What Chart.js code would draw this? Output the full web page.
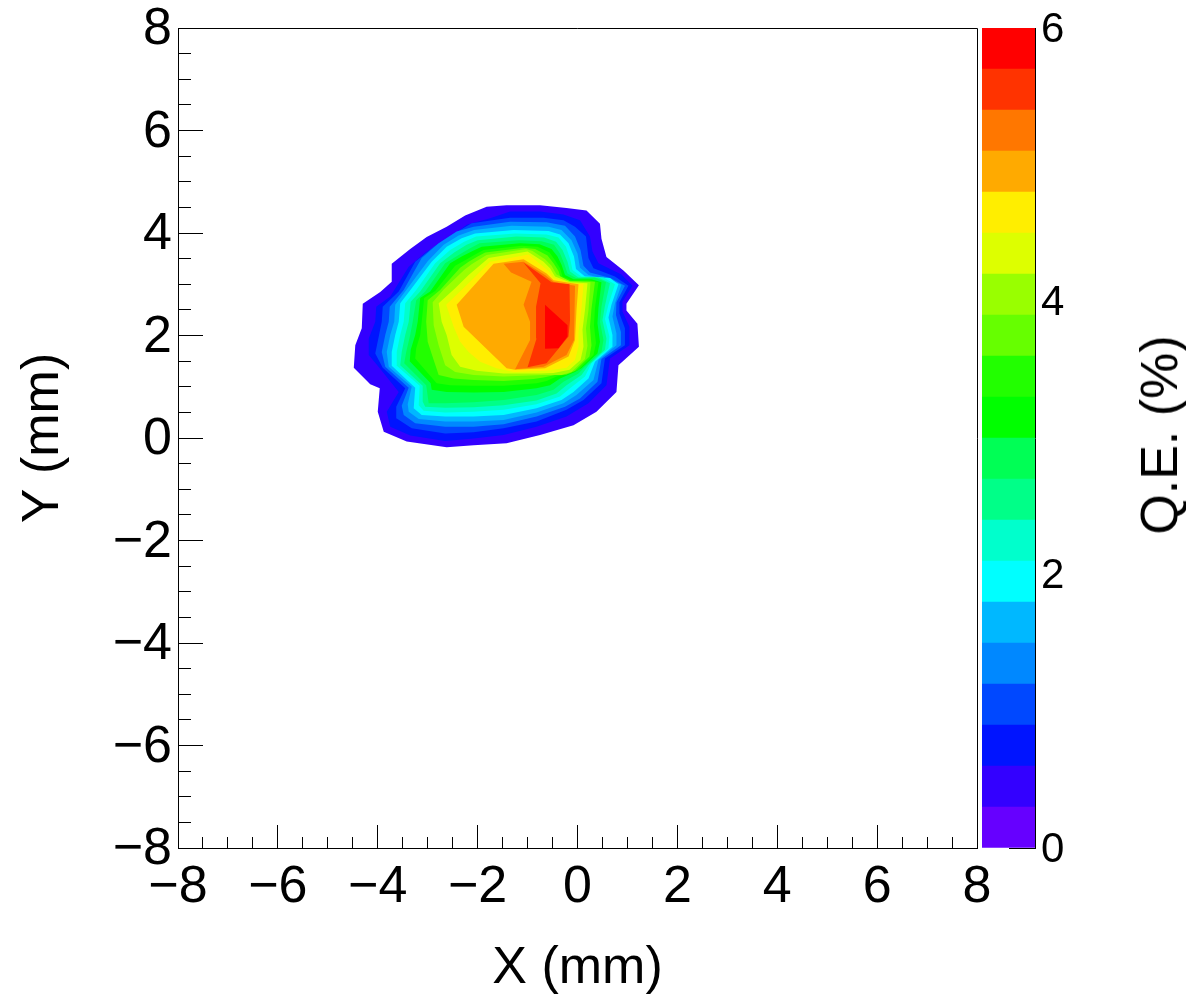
<!DOCTYPE html>
<html>
<head>
<meta charset="utf-8">
<title>Q.E. map</title>
<script src="https://cdn.jsdelivr.net/npm/chart.js"></script>
<style>
  body { margin: 0; background: #fff; }
  canvas { position: absolute; top: 0; }
  #qeTitle {
    position: absolute; left: 1159px; top: 435px;
    font: 52px "Liberation Sans", sans-serif; color: #000; white-space: nowrap;
    transform: translate(-50%, -50%) rotate(-90deg);
  }
</style>
</head>
<body>
<canvas id="mapa" width="1186" height="1000" style="left:0"></canvas>
<canvas id="barra" width="226" height="1000" style="left:960px"></canvas>
<div id="qeTitle">Q.E. (%)</div>
<script>
const xTicks = [-8, 8];
const yTicks = [-8, 8];
const colorTicks = [0, 6];
const levels = [0, 0.3, 0.6, 0.9, 1.2, 1.5, 1.8, 2.1, 2.4, 2.7, 3, 3.3, 3.6, 3.9, 4.2, 4.5, 4.8, 5.1, 5.4, 5.7, 6];
const bandColors = ["#6600ff", "#3300ff", "#0014ff", "#0048ff", "#0088ff", "#00b8ff", "#00ffff", "#00ffcc", "#00ff88", "#00ff55",
  "#00ff00", "#22ff00", "#66ff00", "#99ff00", "#ddff00", "#ffee00", "#ffaa00", "#ff7700", "#ff3300", "#ff0000"];

// Contornos, [x, y] em mm, do nivel 0.3 ate o 5.7
const c03 = [[-1.82,4.51],[-1.42,4.54],[-0.75,4.54],[-0.22,4.49],[0.18,4.44],[0.45,4.18],[0.48,3.89],[0.58,3.53],[0.92,3.27],[1.23,2.98],[0.98,2.62],[0.98,2.49],[1.20,2.23],[1.23,1.78],[0.82,1.42],[0.78,0.90],[0.38,0.51],[-0.08,0.25],[-0.75,0.06],[-1.42,-0.10],[-2.08,-0.14],[-2.62,-0.18],[-3.42,-0.07],[-3.88,0.12],[-4.0,0.51],[-3.96,0.97],[-4.15,1.05],[-4.48,1.37],[-4.45,1.81],[-4.32,2.14],[-4.30,2.62],[-3.95,2.85],[-3.72,3.05],[-3.72,3.40],[-3.35,3.69],[-3.02,3.92],[-2.62,4.12],[-2.25,4.34]];
const c06 = [[-1.75,4.29],[-1.35,4.42],[-0.75,4.42],[-0.28,4.36],[0.05,4.25],[0.25,3.93],[0.30,3.64],[0.42,3.41],[0.88,3.19],[1.10,2.97],[0.90,2.66],[0.90,2.47],[1.04,2.17],[1.04,1.81],[0.65,1.55],[0.58,1.03],[0.22,0.68],[-0.22,0.42],[-0.82,0.22],[-1.48,0.06],[-2.08,-0.01],[-2.65,-0.06],[-3.35,0.05],[-3.75,0.22],[-3.82,0.51],[-3.58,0.90],[-3.96,1.36],[-4.18,1.62],[-4.18,1.94],[-4.05,2.27],[-4.03,2.56],[-3.75,2.76],[-3.38,3.34],[-3.02,3.64],[-2.62,3.86],[-2.22,4.16]];
const c09 = [[-2.12,4.19],[-1.35,4.30],[-0.68,4.30],[-0.28,4.25],[-0.05,4.12],[0.17,3.93],[0.22,3.51],[0.32,3.31],[0.75,3.15],[1.02,2.97],[0.84,2.65],[0.84,2.43],[0.95,2.14],[0.95,1.81],[0.55,1.55],[0.48,1.07],[0.12,0.74],[-0.22,0.55],[-0.82,0.32],[-1.48,0.19],[-2.08,0.11],[-2.65,0.09],[-3.32,0.19],[-3.62,0.38],[-3.63,0.61],[-3.45,0.97],[-3.90,1.37],[-4.05,1.65],[-3.98,1.98],[-3.92,2.27],[-3.90,2.56],[-3.58,2.86],[-3.25,3.44],[-2.88,3.73],[-2.52,3.96]];
const c12 = [[-2.08,4.12],[-1.35,4.22],[-0.62,4.21],[-0.25,4.14],[-0.05,3.93],[0.06,3.67],[0.12,3.36],[0.25,3.23],[0.66,3.12],[0.95,2.97],[0.78,2.65],[0.77,2.40],[0.87,2.07],[0.87,1.81],[0.48,1.54],[0.40,1.10],[0.05,0.77],[-0.25,0.61],[-0.82,0.42],[-1.48,0.27],[-2.08,0.22],[-2.65,0.22],[-3.25,0.29],[-3.48,0.45],[-3.52,0.63],[-3.38,0.98],[-3.85,1.39],[-3.92,1.68],[-3.85,2.01],[-3.78,2.27],[-3.76,2.56],[-3.48,2.89],[-3.12,3.51],[-2.78,3.80],[-2.42,4.03]];
const c15 = [[-2.07,4.06],[-1.32,4.14],[-0.58,4.12],[-0.32,4.06],[-0.12,3.86],[0.00,3.60],[0.05,3.32],[0.22,3.18],[0.68,3.08],[0.88,2.99],[0.75,2.63],[0.70,2.37],[0.78,2.04],[0.78,1.81],[0.42,1.52],[0.32,1.13],[-0.02,0.84],[-0.28,0.68],[-0.82,0.50],[-1.48,0.35],[-2.08,0.32],[-2.65,0.32],[-3.18,0.37],[-3.38,0.51],[-3.40,0.66],[-3.32,1.00],[-3.78,1.39],[-3.82,1.68],[-3.75,2.01],[-3.67,2.27],[-3.65,2.60],[-3.38,2.95],[-3.00,3.45],[-2.68,3.77],[-2.38,3.95]];
const c18 = [[-2.05,3.99],[-1.28,4.06],[-0.58,4.04],[-0.35,3.97],[-0.18,3.80],[-0.07,3.54],[-0.03,3.30],[0.15,3.15],[0.65,3.12],[0.82,3.00],[0.68,2.60],[0.62,2.35],[0.70,2.01],[0.70,1.78],[0.35,1.49],[0.22,1.16],[-0.08,0.90],[-0.32,0.74],[-0.82,0.58],[-1.48,0.45],[-2.08,0.42],[-2.65,0.42],[-3.12,0.45],[-3.28,0.58],[-3.25,0.98],[-3.72,1.41],[-3.72,1.68],[-3.65,2.01],[-3.58,2.27],[-3.55,2.63],[-3.32,2.92],[-2.92,3.44],[-2.62,3.73],[-2.32,3.90]];
const c21 = [[-2.03,3.93],[-1.25,3.99],[-0.62,3.97],[-0.38,3.91],[-0.23,3.73],[-0.14,3.47],[-0.10,3.28],[0.08,3.15],[0.52,3.13],[0.75,3.00],[0.62,2.60],[0.55,2.32],[0.64,1.98],[0.62,1.75],[0.28,1.46],[0.15,1.20],[-0.15,0.97],[-0.35,0.81],[-0.82,0.66],[-1.48,0.55],[-2.08,0.51],[-2.65,0.50],[-3.08,0.53],[-3.18,0.64],[-3.16,1.02],[-3.63,1.42],[-3.62,1.68],[-3.55,2.01],[-3.48,2.27],[-3.45,2.63],[-3.23,2.89],[-2.85,3.41],[-2.55,3.67],[-2.27,3.83]];
const c24 = [[-2.00,3.86],[-1.22,3.93],[-0.67,3.91],[-0.43,3.83],[-0.30,3.67],[-0.20,3.44],[-0.15,3.25],[0.02,3.13],[0.42,3.13],[0.65,3.02],[0.55,2.58],[0.50,2.30],[0.58,1.94],[0.55,1.72],[0.22,1.42],[0.08,1.23],[-0.22,1.03],[-0.42,0.87],[-0.82,0.73],[-1.48,0.64],[-2.08,0.60],[-2.65,0.59],[-3.05,0.61],[-3.10,0.71],[-3.10,1.02],[-3.55,1.42],[-3.52,1.68],[-3.45,2.01],[-3.38,2.27],[-3.34,2.66],[-3.15,2.86],[-2.75,3.41],[-2.47,3.62],[-2.22,3.77]];
const c27 = [[-1.96,3.80],[-1.18,3.86],[-0.72,3.84],[-0.47,3.77],[-0.35,3.60],[-0.27,3.41],[-0.20,3.21],[-0.03,3.12],[0.35,3.13],[0.57,3.04],[0.48,2.56],[0.45,2.27],[0.52,1.91],[0.48,1.68],[0.15,1.39],[0.02,1.26],[-0.28,1.10],[-0.48,0.94],[-0.82,0.84],[-1.48,0.74],[-2.08,0.70],[-2.65,0.68],[-2.98,0.68],[-3.03,1.03],[-3.47,1.46],[-3.43,1.68],[-3.35,2.01],[-3.30,2.27],[-3.23,2.69],[-3.05,2.86],[-2.65,3.41],[-2.38,3.57],[-2.16,3.70]];
const c30 = [[-1.92,3.73],[-1.15,3.80],[-0.76,3.78],[-0.52,3.69],[-0.40,3.54],[-0.32,3.38],[-0.25,3.18],[-0.08,3.10],[0.28,3.10],[0.48,3.04],[0.42,2.54],[0.40,2.24],[0.45,1.88],[0.40,1.65],[0.08,1.36],[-0.05,1.29],[-0.35,1.16],[-0.55,1.03],[-0.82,0.97],[-1.48,0.90],[-2.08,0.89],[-2.62,0.90],[-2.92,0.94],[-2.94,1.07],[-3.36,1.50],[-3.34,1.72],[-3.25,2.01],[-3.20,2.27],[-3.15,2.73],[-2.95,2.86],[-2.55,3.41],[-2.32,3.54],[-2.12,3.64]];
const c33 = [[-1.88,3.67],[-1.12,3.75],[-0.80,3.73],[-0.56,3.62],[-0.45,3.47],[-0.35,3.31],[-0.30,3.15],[-0.12,3.08],[0.22,3.08],[0.42,3.04],[0.35,2.53],[0.33,2.20],[0.37,1.85],[0.32,1.62],[0.02,1.33],[-0.15,1.26],[-0.42,1.20],[-0.62,1.11],[-0.82,1.07],[-1.48,1.02],[-2.08,1.02],[-2.55,1.03],[-2.82,1.07],[-3.25,1.55],[-3.23,1.75],[-3.15,2.01],[-3.12,2.27],[-3.07,2.73],[-2.85,2.87],[-2.45,3.36],[-2.25,3.47],[-2.05,3.58]];
const c36 = [[-1.85,3.62],[-1.07,3.71],[-0.85,3.69],[-0.60,3.56],[-0.48,3.41],[-0.38,3.26],[-0.34,3.13],[-0.15,3.06],[0.17,3.06],[0.35,3.05],[0.28,2.52],[0.25,2.17],[0.28,1.81],[0.24,1.59],[-0.05,1.31],[-0.22,1.24],[-0.45,1.23],[-0.68,1.18],[-0.88,1.15],[-1.48,1.11],[-2.08,1.13],[-2.48,1.16],[-2.78,1.23],[-2.88,1.52],[-3.00,1.88],[-3.03,2.27],[-3.00,2.69],[-2.75,2.89],[-2.35,3.32],[-2.18,3.44],[-2.00,3.54]];
const c39 = [[-1.82,3.57],[-1.03,3.69],[-0.90,3.65],[-0.65,3.49],[-0.52,3.36],[-0.42,3.19],[-0.15,3.06],[0.26,3.04],[0.22,2.50],[0.17,2.14],[0.20,1.80],[0.15,1.54],[-0.12,1.29],[-0.32,1.23],[-0.68,1.23],[-1.48,1.20],[-2.08,1.23],[-2.45,1.29],[-2.65,1.42],[-2.78,1.81],[-2.88,2.20],[-2.90,2.65],[-2.68,2.90],[-2.27,3.28],[-2.12,3.39],[-1.96,3.49]];
const c42 = [[-1.78,3.51],[-1.00,3.64],[-0.68,3.44],[-0.55,3.31],[-0.45,3.15],[-0.15,3.04],[0.20,3.02],[0.15,2.50],[0.10,2.11],[0.12,1.78],[0.06,1.52],[-0.16,1.33],[-0.48,1.27],[-0.75,1.26],[-1.48,1.26],[-2.02,1.31],[-2.35,1.39],[-2.52,1.62],[-2.62,2.01],[-2.72,2.27],[-2.78,2.63],[-2.45,2.92],[-2.18,3.18]];
const c45 = [[-1.75,3.44],[-0.98,3.58],[-0.58,3.26],[-0.48,3.12],[-0.15,3.02],[0.12,3.00],[0.08,2.53],[0.02,2.07],[0.02,1.78],[-0.05,1.52],[-0.22,1.37],[-0.62,1.31],[-1.28,1.29],[-1.62,1.36],[-1.95,1.49],[-2.18,1.68],[-2.35,1.88],[-2.48,2.17],[-2.63,2.60],[-2.12,3.08]];
const c48 = [[-2.42,2.60],[-1.68,3.40],[-1.48,3.43],[-1.08,3.49],[-0.62,3.21],[-0.48,3.08],[0.02,3.00],[-0.02,2.50],[-0.05,1.91],[-0.18,1.59],[-0.65,1.36],[-1.25,1.33],[-1.42,1.36],[-2.28,2.17]];
const c51 = [[-1.48,3.40],[-1.08,3.44],[-0.65,3.18],[-0.48,3.05],[-0.05,2.97],[-0.07,1.91],[-0.22,1.62],[-0.68,1.39],[-1.25,1.34],[-0.95,1.91],[-0.95,2.27],[-1.08,2.60],[-0.92,3.05],[-1.33,3.23]];
const c54 = [[-1.08,3.42],[-0.68,3.15],[-0.52,3.04],[-0.16,3.00],[-0.15,2.30],[-0.18,1.98],[-0.62,1.46],[-1.00,1.38],[-0.82,1.94],[-0.83,2.56],[-0.74,3.02]];
const c57 = [[-0.65,2.60],[-0.20,2.20],[-0.20,1.98],[-0.38,1.75],[-0.65,1.74]];
const contours = [c03, c06, c09, c12, c15, c18, c21, c24, c27, c30, c33, c36, c39, c42, c45, c48, c51, c54, c57];

const fonte = "'Liberation Sans', sans-serif";
const menos = (v) => (v < 0 ? "\u2212" + Math.abs(v) : "" + v);

// Moldura do grafico (so topo e direita, o resto vem dos eixos)
const moldura = {
  id: "moldura",
  afterDatasetsDraw(chart) {
    const { left, right, top, bottom } = chart.chartArea;
    const ctx = chart.ctx;
    ctx.save();
    ctx.strokeStyle = "#000";
    ctx.lineWidth = 1;
    ctx.beginPath();
    ctx.moveTo(left, top + 0.5);
    ctx.lineTo(right + 0.5, top + 0.5);
    ctx.lineTo(right + 0.5, bottom);
    ctx.stroke();
    ctx.restore();
  }
};

// Fixa a largura/altura do eixo e tira a folga que o Chart.js reserva para os rotulos
function fixarEixo(scale, tamanho) {
  if (scale.isHorizontal()) scale.height = tamanho; else scale.width = tamanho;
  scale.paddingTop = scale.paddingBottom = scale.paddingLeft = scale.paddingRight = 0;
}

// Eixo so com as marcas menores, a cada 0.5 mm
function eixoMenor(position, range, tamanho) {
  return {
    type: "linear", position, min: range[0], max: range[1], weight: -1,
    border: { display: false },
    grid: { drawOnChartArea: false, tickLength: -tamanho, tickColor: "#000", tickWidth: 1 },
    ticks: { display: false, stepSize: 0.5 },
    afterFit(scale) { fixarEixo(scale, 0); }
  };
}

new Chart(document.getElementById("mapa"), {
  type: "scatter",
  data: {
    // o Chart.js pinta o ultimo dataset primeiro, entao o contorno mais interno vem antes
    datasets: contours.map((c, i) => ({
      label: "Q.E. > " + levels[i + 1],
      data: c.map((p) => ({ x: p[0], y: p[1] })),
      showLine: true,
      fill: "shape",
      backgroundColor: bandColors[i + 1],
      borderWidth: 0,
      pointRadius: 0
    })).reverse()
  },
  options: {
    responsive: false,
    animation: false,
    layout: { padding: { top: 28, right: 209 } },
    plugins: { legend: { display: false }, tooltip: { enabled: false } },
    scales: {
      x: {
        type: "linear", position: "bottom", min: xTicks[0], max: xTicks[1],
        border: { color: "#000", width: 1 },
        grid: { drawOnChartArea: false, tickLength: -23, tickColor: "#000", tickWidth: 1 },
        ticks: { stepSize: 2, padding: 23 + 8, maxRotation: 0, autoSkip: false, color: "#000", font: { family: fonte, size: 52 }, callback: menos },
        title: { display: true, text: "X (mm)", color: "#000", font: { family: fonte, size: 52 }, padding: 0 },
        afterFit(scale) { fixarEixo(scale, 152); }
      },
      y: {
        type: "linear", position: "left", min: yTicks[0], max: yTicks[1],
        border: { color: "#000", width: 1 },
        grid: { drawOnChartArea: false, tickLength: -25, tickColor: "#000", tickWidth: 1 },
        ticks: { stepSize: 2, padding: 25 + 6, labelOffset: 2, autoSkip: false, color: "#000", font: { family: fonte, size: 52 }, callback: menos },
        title: { display: true, text: "Y (mm)", color: "#000", font: { family: fonte, size: 52 }, padding: { top: 12, bottom: 0 } },
        afterFit(scale) { fixarEixo(scale, 178); }
      },
      xMenor: eixoMenor("bottom", xTicks, 11),
      yMenor: eixoMenor("left", yTicks, 13)
    }
  },
  plugins: [moldura]
});

new Chart(document.getElementById("barra"), {
  type: "bar",
  data: {
    labels: ["Q.E."],
    datasets: bandColors.map((cor, i) => ({
      data: [[levels[i], levels[i + 1]]],
      backgroundColor: cor,
      grouped: false,
      categoryPercentage: 1,
      barPercentage: 1
    }))
  },
  options: {
    responsive: false,
    animation: false,
    layout: { padding: { left: 22, top: 28, bottom: 152 } },
    plugins: { legend: { display: false }, tooltip: { enabled: false } },
    scales: {
      x: { display: false },
      y: {
        position: "right", min: colorTicks[0], max: colorTicks[1],
        border: { color: "#000", width: 1 },
        grid: { drawOnChartArea: false, tickLength: -26, tickColor: "#000", tickWidth: 1 },
        ticks: { stepSize: 2, padding: 26 + 6, labelOffset: 2, color: "#000", font: { family: fonte, size: 42 } },
        afterFit(scale) { fixarEixo(scale, 151); }
      }
    }
  }
});
</script>
</body>
</html>
